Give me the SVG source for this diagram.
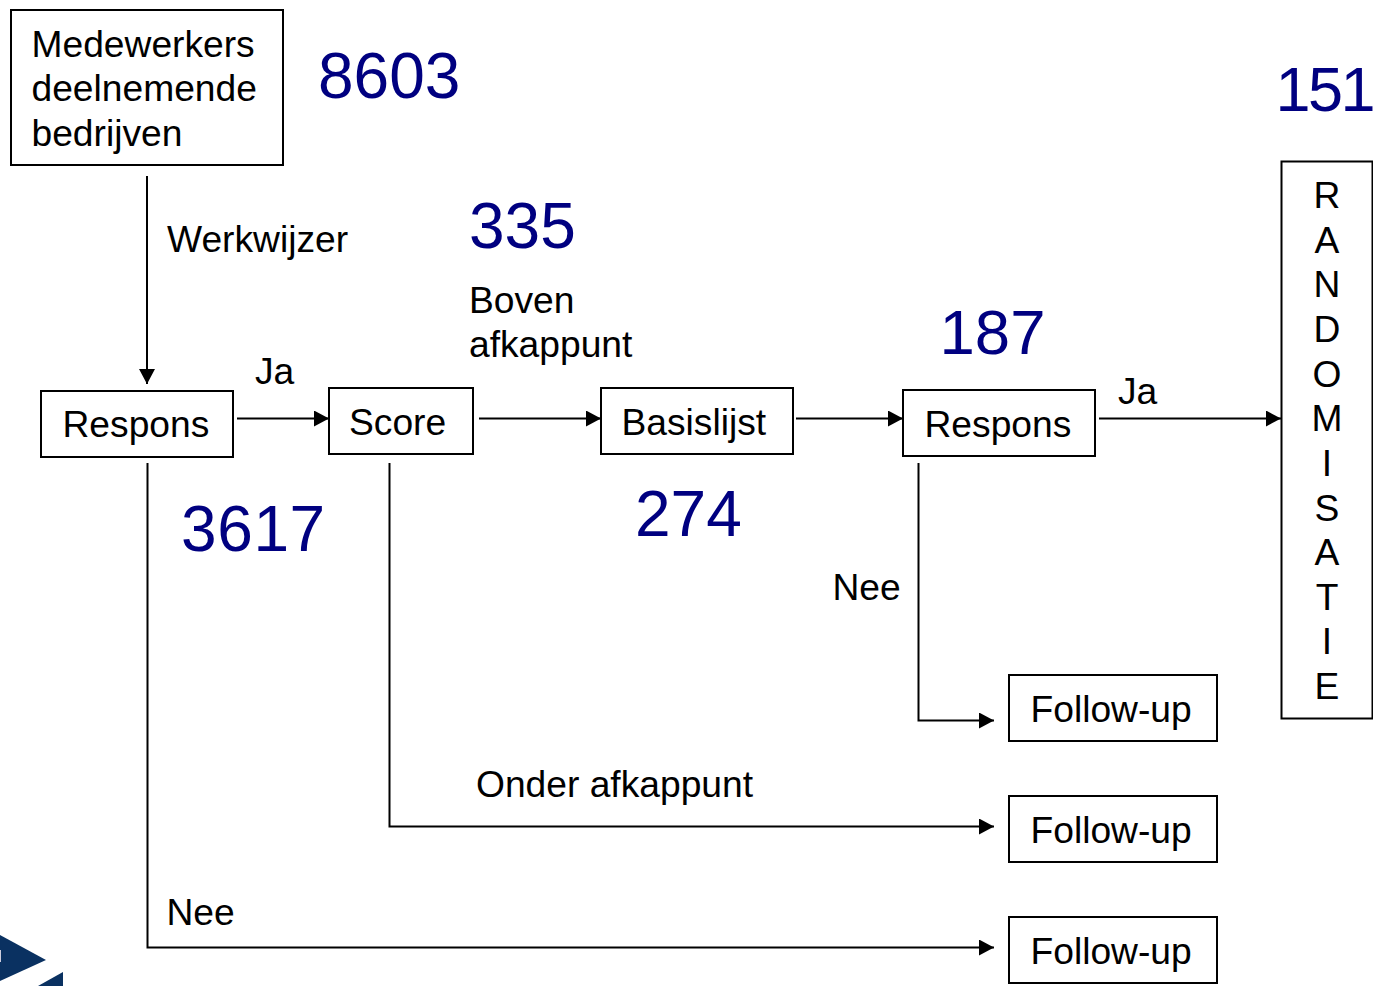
<svg xmlns="http://www.w3.org/2000/svg" width="1373" height="986" viewBox="0 0 1373 986">
<style>
text{font-family:"Liberation Sans",Arial,sans-serif;fill:#000;font-size:37.200px}
.n{fill:#000080;font-size:64px}
.b{fill:#fff;stroke:#000;stroke-width:2}
.c{fill:none;stroke:#000;stroke-width:2}
</style>
<defs><marker id="a" markerUnits="userSpaceOnUse" markerWidth="16" markerHeight="16" refX="15" refY="8" orient="auto"><path d="M0 0L15 8L0 16z" fill="#000"/></marker></defs>
<rect width="1373" height="986" fill="#fff"/>
<g id="logo"><path d="M0 935L46 960L0 981z" fill="#0a3161"/><path d="M38 986L63 972V986z" fill="#0a3161"/><rect x="0" y="950" width="1" height="12" fill="#ccd"/></g>
<g id="connectors">
<path class="c" d="M147 176V384" marker-end="url(#a)"/>
<path class="c" d="M237 418.500H329" marker-end="url(#a)"/>
<path class="c" d="M479 418.500H601" marker-end="url(#a)"/>
<path class="c" d="M796 418.500H903" marker-end="url(#a)"/>
<path class="c" d="M1099 418.500H1281" marker-end="url(#a)"/>
<path class="c" d="M918.500 463V720.500H994" marker-end="url(#a)"/>
<path class="c" d="M389.500 463V826.500H994" marker-end="url(#a)"/>
<path class="c" d="M147.500 463V947.500H994" marker-end="url(#a)"/>
</g>
<g id="n1"><rect class="b" x="11" y="10" width="272" height="155"/><text x="31.500" y="57">Medewerkers</text><text x="31.500" y="101">deelnemende</text><text x="31.500" y="146">bedrijven</text></g>
<g id="n2"><rect class="b" x="41" y="391" width="192" height="66"/><text x="62.500" y="437">Respons</text></g>
<g id="n3"><rect class="b" x="329" y="388" width="144" height="66"/><text x="349" y="435">Score</text></g>
<g id="n4"><rect class="b" x="601" y="388" width="192" height="66"/><text x="621.500" y="435">Basislijst</text></g>
<g id="n5"><rect class="b" x="903" y="390" width="192" height="66"/><text x="924.500" y="437">Respons</text></g>
<g id="n6"><rect class="b" x="1281.500" y="161.500" width="91" height="557"/>
<g text-anchor="middle"><text x="1327" y="208">R</text><text x="1327" y="253">A</text><text x="1327" y="297">N</text><text x="1327" y="342">D</text><text x="1327" y="387">O</text><text x="1327" y="431">M</text><text x="1327" y="476">I</text><text x="1327" y="521">S</text><text x="1327" y="565">A</text><text x="1327" y="610">T</text><text x="1327" y="654">I</text><text x="1327" y="699">E</text></g></g>
<g id="n7"><rect class="b" x="1009" y="675" width="208" height="66"/><text x="1030.500" y="722">Follow-up</text></g>
<g id="n8"><rect class="b" x="1009" y="796" width="208" height="66"/><text x="1030.500" y="843">Follow-up</text></g>
<g id="n9"><rect class="b" x="1009" y="917" width="208" height="66"/><text x="1030.500" y="964">Follow-up</text></g>
<g id="labels">
<text x="167" y="252">Werkwijzer</text><text x="255" y="384">Ja</text><text x="469" y="313">Boven</text><text x="469" y="357">afkappunt</text><text x="1118" y="404">Ja</text><text x="832.500" y="600">Nee</text><text x="476" y="797">Onder afkappunt</text><text x="166.500" y="925">Nee</text>
<text class="n" x="318" y="97.500">8603</text><text class="n" x="1275.500" y="111" style="font-size:63px;letter-spacing:-2.500px">151</text><text class="n" x="469" y="248">335</text><text class="n" x="939.500" y="353.500" style="font-size:63.500px">187</text><text class="n" x="181" y="551" style="letter-spacing:.6px">3617</text><text class="n" x="635" y="536">274</text>
</g>
</svg>
